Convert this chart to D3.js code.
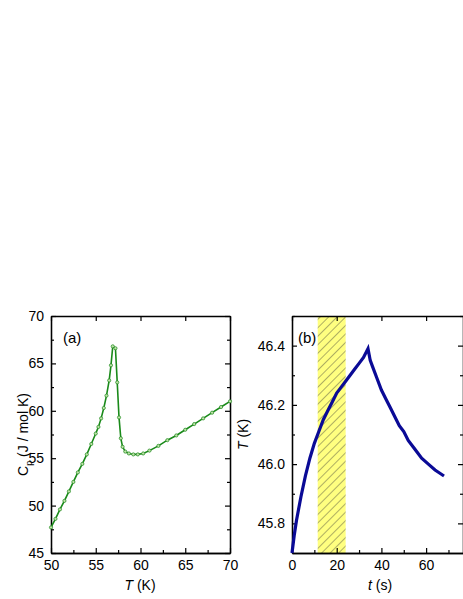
<!DOCTYPE html>
<html><head><meta charset="utf-8">
<script src="https://cdn.jsdelivr.net/npm/d3@7"></script>
<style>body{margin:0;background:#fff}text{font-family:"Liberation Sans",Arial,sans-serif}</style>
</head><body><div id="chart"></div>
<script>
// panel (a): heat capacity vs temperature
const cpT = [50,50.5,51,51.5,52,52.5,53,53.5,54,54.5,55,55.3,55.6,55.9,56.2,56.5,56.7,56.9,57.2,57.4,57.6,57.8,58,58.3,58.7,59.2,59.7,60.3,61,62,63,64,65,66,67,68,69,70];
const cpV = [47.7,48.6,49.6,50.5,51.5,52.5,53.5,54.4,55.4,56.5,57.6,58.3,59.2,60.3,61.6,63.2,64.8,66.8,66.6,63.0,59.3,57.1,56.2,55.7,55.5,55.4,55.4,55.5,55.8,56.3,56.9,57.4,58.0,58.6,59.2,59.8,60.4,61.0];
// panel (b): temperature vs time
const tT = [0,1,2,4,6,8,10,12,14,16,18,20,22,24,26,28,30,32,34,35,36,38,40,42,44,46,48,50,52,55,58,61,64,66,68];
const tV = [45.7,45.76,45.81,45.89,45.96,46.02,46.07,46.11,46.15,46.18,46.21,46.24,46.26,46.28,46.3,46.32,46.34,46.36,46.39,46.35,46.33,46.29,46.25,46.22,46.19,46.16,46.13,46.11,46.08,46.05,46.02,46.0,45.98,45.97,45.96];
const hatch = [11.5, 24];

const W = 463, H = 599;
const svg = d3.select("#chart").append("svg").attr("width", W).attr("height", H);

const defs = svg.append("defs");
const pat = defs.append("pattern").attr("id", "hatch").attr("patternUnits", "userSpaceOnUse")
    .attr("width", 6).attr("height", 6).attr("patternTransform", "rotate(45)");
pat.append("rect").attr("width", 6).attr("height", 6).attr("fill", "#ffff80");
pat.append("line").attr("x1", 0).attr("y1", 0).attr("x2", 0).attr("y2", 6).attr("stroke", "#333").attr("stroke-width", 0.8);

const yTop = 316, yBot = 553;

function frame(x, y, xt, yt, xfmt, yfmt) {
    const g = svg.append("g");
    const [x0, x1] = x.range(), [y0, y1] = y.range();
    const minor = (s, ts) => { const d = ts[1] - ts[0]; return ts.map(v => v + d / 2).filter(v => v <= s.domain()[1]); };
    g.append("g").attr("transform", `translate(0,${y0})`).call(d3.axisBottom(x).tickValues(xt).tickFormat(xfmt).tickSizeInner(-5).tickSizeOuter(0).tickPadding(7));
    g.append("g").attr("transform", `translate(0,${y0})`).call(d3.axisBottom(x).tickValues(minor(x, xt)).tickFormat("").tickSizeInner(-3).tickSizeOuter(0));
    g.append("g").attr("transform", `translate(0,${y1})`).call(d3.axisTop(x).tickValues(xt).tickFormat("").tickSizeInner(-5).tickSizeOuter(0));
    g.append("g").attr("transform", `translate(${x0},0)`).call(d3.axisLeft(y).tickValues(yt).tickFormat(yfmt).tickSizeInner(-5).tickSizeOuter(0).tickPadding(7));
    g.append("g").attr("transform", `translate(${x0},0)`).call(d3.axisLeft(y).tickValues(minor(y, yt)).tickFormat("").tickSizeInner(-3).tickSizeOuter(0));
    g.append("g").attr("transform", `translate(${x1},0)`).call(d3.axisRight(y).tickValues(yt).tickFormat("").tickSizeInner(-5).tickSizeOuter(0));
    g.append("g").attr("transform", `translate(${x1},0)`).call(d3.axisRight(y).tickValues(minor(y, yt)).tickFormat("").tickSizeInner(-3).tickSizeOuter(0));
    g.selectAll("text").attr("font-size", 14).attr("fill", "#000");
    g.selectAll(".domain").attr("stroke-width", 1.3);
    g.selectAll(".tick line").attr("stroke-width", 1.2);
    return g;
}

// panel (a)
const xa = d3.scaleLinear().domain([50, 70]).range([51, 230]);
const ya = d3.scaleLinear().domain([45, 70]).range([yBot, yTop]);
frame(xa, ya, d3.range(50, 71, 5), d3.range(45, 71, 5), d3.format("d"), d3.format("d"));
svg.append("path").datum(d3.zip(cpT, cpV)).attr("fill", "none").attr("stroke", "#1a8a1a").attr("stroke-width", 1.6)
    .attr("d", d3.line().x(d => xa(d[0])).y(d => ya(d[1])));
svg.append("g").selectAll("circle").data(d3.zip(cpT, cpV)).join("circle")
    .attr("cx", d => xa(d[0])).attr("cy", d => ya(d[1])).attr("r", 1.6)
    .attr("fill", "#bfe0a8").attr("stroke", "#1a8a1a").attr("stroke-width", 0.7);
svg.append("text").attr("x", 63).attr("y", 343).attr("font-size", 15).text("(a)");
svg.append("text").attr("transform", `translate(28,${(yTop + yBot) / 2}) rotate(-90)`).attr("text-anchor", "middle").attr("font-size", 14)
    .html('C<tspan font-size="9" dy="4">p</tspan><tspan dy="-4"> (J / mol K)</tspan>');
svg.append("text").attr("x", 140).attr("y", 590).attr("text-anchor", "middle").attr("font-size", 14)
    .html('<tspan font-style="italic">T</tspan> (K)');

// panel (b)
const xb = d3.scaleLinear().domain([0, 76.5]).range([292, 463]);
const yb = d3.scaleLinear().domain([45.7, 46.5]).range([yBot, yTop]);
svg.append("rect").attr("x", xb(hatch[0])).attr("y", yTop).attr("width", xb(hatch[1]) - xb(hatch[0])).attr("height", yBot - yTop)
    .attr("fill", "url(#hatch)");
frame(xb, yb, d3.range(0, 77, 20), [45.8, 46.0, 46.2, 46.4], d3.format("d"), d3.format(".1f"));
svg.append("path").datum(d3.zip(tT, tV)).attr("fill", "none").attr("stroke", "#0a0a96").attr("stroke-width", 3.2)
    .attr("d", d3.line().x(d => xb(d[0])).y(d => yb(d[1])));
svg.append("text").attr("x", 298).attr("y", 343).attr("font-size", 15).text("(b)");
svg.append("text").attr("transform", `translate(248,${(yTop + yBot) / 2}) rotate(-90)`).attr("text-anchor", "middle").attr("font-size", 14)
    .html('<tspan font-style="italic">T</tspan> (K)');
svg.append("text").attr("x", 380).attr("y", 590).attr("text-anchor", "middle").attr("font-size", 14)
    .html('<tspan font-style="italic">t</tspan> (s)');
</script></body></html>
